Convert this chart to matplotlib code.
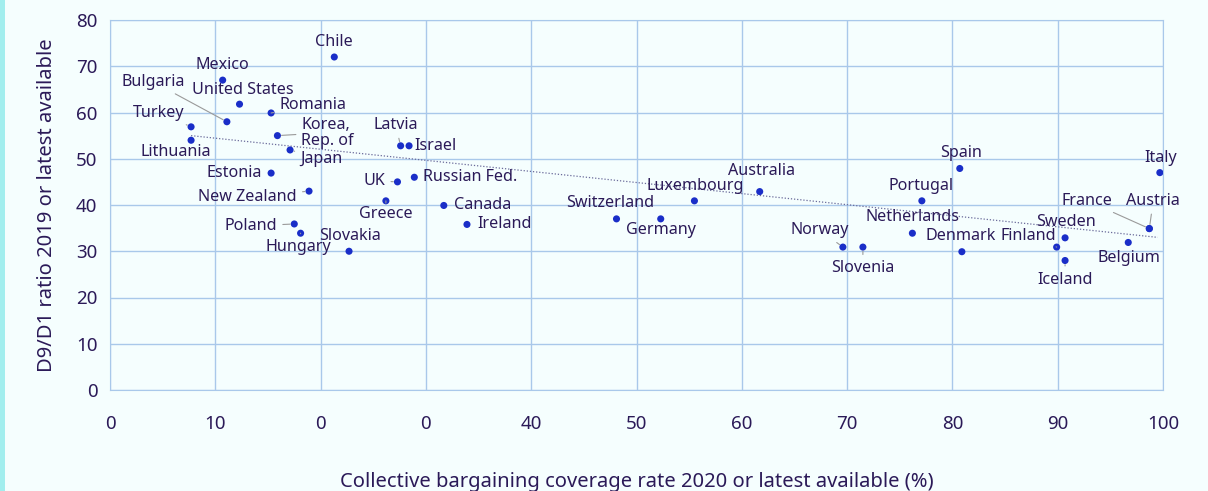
import matplotlib.pyplot as plt
import numpy as np
from matplotlib.patches import Rectangle

plt.rcParams['font.family'] = ['Noto Sans', 'DejaVu Sans']

countries = ["Chile", "Mexico", "United States", "Romania", "Bulgaria", "Turkey",
             "Lithuania", "Korea,\nRep. of", "Japan", "Estonia", "New Zealand",
             "Poland", "Hungary", "Slovakia", "Latvia", "Israel", "UK",
             "Russian Fed.", "Greece", "Canada", "Ireland", "Switzerland",
             "Germany", "Luxembourg", "Australia", "Norway", "Slovenia",
             "Netherlands", "Portugal", "Spain", "Denmark", "Finland", "Sweden",
             "Iceland", "Belgium", "Austria", "France", "Italy"]
coverage = [21.3, 10.7, 12.3, 15.3, 11.1, 7.7, 7.7, 15.9, 17.1, 15.3, 18.9,
            17.5, 18.1, 22.7, 27.6, 28.4, 27.3, 28.9, 26.2, 31.7, 33.9, 48.1,
            52.3, 55.5, 61.7, 69.6, 71.5, 76.2, 77.1, 80.7, 80.9, 89.9, 90.7,
            90.7, 96.7, 98.7, 98.7, 99.7]
d9d1 = [72.0, 67.0, 61.8, 59.9, 58.0, 56.9, 54.0, 55.0, 51.9, 46.9, 43.0,
        35.9, 33.9, 30.0, 52.8, 52.8, 45.0, 46.0, 40.9, 39.9, 35.8, 37.0,
        37.0, 40.9, 42.9, 30.9, 30.9, 33.9, 40.9, 47.9, 29.9, 30.9, 32.9,
        28.0, 31.9, 34.9, 34.9, 47.0]

# trend line end points
trend_x = [7.7, 99.5]
trend_y = [55.0, 33.0]

x_ticks = [0, 10, 20, 30, 40, 50, 60, 70, 80, 90, 100]
x_tick_labels = ["0", "10", "0", "0", "40", "50", "60", "70", "80", "90", "100"]
y_ticks = [0, 10, 20, 30, 40, 50, 60, 70, 80]

# label placement: dx, dy in pixels, alignment, leader line
label_pos = {
    "Chile": (0, 15, "center", False),
    "Mexico": (0, 15, "center", False),
    "United States": (3, 14, "center", False),
    "Romania": (8, 8, "left", True),
    "Bulgaria": (-74, 40, "center", True),
    "Turkey": (-32, 14, "center", True),
    "Lithuania": (-15, -12, "center", False),
    "Korea,\nRep. of": (24, 3, "left", True),
    "Japan": (10, -9, "left", True),
    "Estonia": (-9, 0, "right", False),
    "New Zealand": (-12, -6, "right", True),
    "Poland": (-17, -2, "right", True),
    "Hungary": (-2, -14, "center", True),
    "Slovakia": (1, 15, "center", False),
    "Latvia": (-5, 21, "center", True),
    "Israel": (5, 0, "left", False),
    "UK": (-12, 1, "right", True),
    "Russian Fed.": (9, 0, "left", False),
    "Greece": (0, -13, "center", True),
    "Canada": (10, 0, "left", False),
    "Ireland": (10, 0, "left", False),
    "Switzerland": (-6, 16, "center", False),
    "Germany": (0, -11, "center", False),
    "Luxembourg": (1, 15, "center", False),
    "Australia": (2, 21, "center", False),
    "Norway": (-23, 17, "center", True),
    "Slovenia": (0, -21, "center", True),
    "Netherlands": (0, 16, "center", False),
    "Portugal": (-1, 15, "center", False),
    "Spain": (1, 15, "center", False),
    "Denmark": (-1, 16, "center", False),
    "Finland": (-1, 11, "right", True),
    "Sweden": (1, 16, "center", False),
    "Iceland": (0, -19, "center", True),
    "Belgium": (1, -16, "center", False),
    "Austria": (4, 28, "center", True),
    "France": (-37, 28, "right", True),
    "Italy": (1, 15, "center", False),
}

text_col = "#2b1a58"
grid_col = "#a9c8ea"
dot_col = "#1a2ec8"
bg = "#f5fefe"

fig = plt.figure(figsize=(12.08, 4.91), dpi=100, facecolor=bg)
fig.patches.append(Rectangle((0, 0), 5 / 1208, 1, transform=fig.transFigure,
                             facecolor="#a2eeee", edgecolor="none"))
ax = fig.add_axes([110 / 1208, 101 / 491, 1053 / 1208, 370 / 491])
ax.set_facecolor(bg)

ax.set_xlim(0, 100)
ax.set_ylim(0, 80)
ax.set_xticks(x_ticks)
ax.set_xticklabels(x_tick_labels)
ax.set_yticks(y_ticks)
ax.grid(True, color=grid_col, lw=1)
ax.set_axisbelow(True)
for s in ax.spines.values():
    s.set_color(grid_col)
ax.tick_params(length=0, labelsize=13.5, labelcolor=text_col)
ax.tick_params(axis="x", pad=18)
ax.tick_params(axis="y", pad=9)

ax.plot(trend_x, trend_y, ls=(0, (1, 1.5)), color="#6a6a9a", lw=0.9, zorder=2)

ax.scatter(coverage, d9d1, s=26, color=dot_col, zorder=4, edgecolor="none")

for name, x, y in zip(countries, coverage, d9d1):
    dx, dy, ha, lead = label_pos[name]
    props = None
    if lead:
        props = dict(arrowstyle="-", color="#9a9a9a", lw=0.8, shrinkA=2, shrinkB=3)
    ax.annotate(name, (x, y), xytext=(dx, dy), textcoords="offset pixels",
                ha=ha, va="center", fontsize=11.6, color=text_col,
                linespacing=1.0, arrowprops=props, zorder=5)

ax.set_xlabel("Collective bargaining coverage rate 2020 or latest available (%)",
              fontsize=14.5, color=text_col, labelpad=28)
ax.set_ylabel("D9/D1 ratio 2019 or latest available", fontsize=14.5,
              color=text_col, labelpad=14)

fig.savefig("out.png", dpi=100, facecolor=bg)
